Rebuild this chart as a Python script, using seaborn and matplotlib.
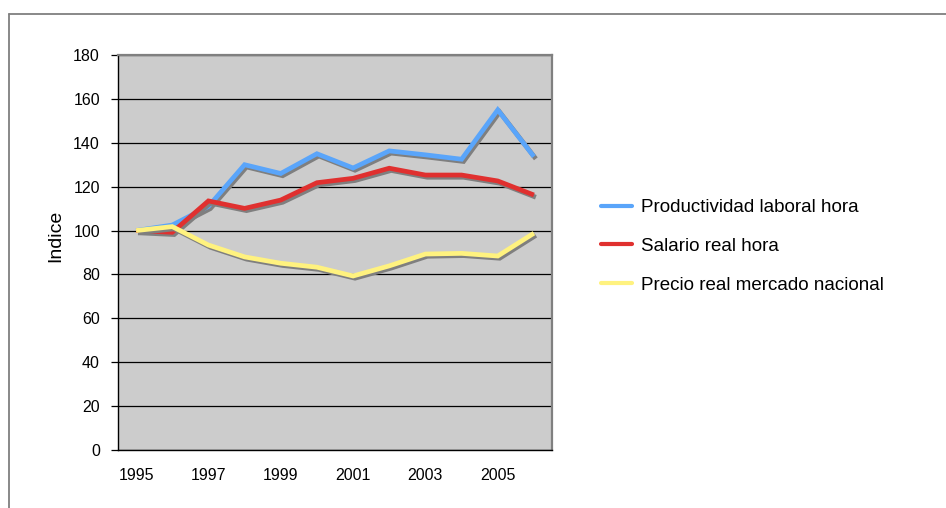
import matplotlib
matplotlib.use("Agg")
import matplotlib.pyplot as plt
import matplotlib.patheffects as pe
from matplotlib.lines import Line2D
import numpy as np
import pandas as pd
import seaborn as sns

# Index values (1995 = 100)
years = [1995, 1996, 1997, 1998, 1999, 2000, 2001, 2002, 2003, 2004, 2005, 2006]
productividad = [100, 102.5, 111, 130, 126, 135, 128.5, 136.3, 134.5, 132.5, 155, 133.7]
salario = [100, 99.2, 113.5, 110.1, 113.9, 121.8, 123.8, 128.4, 125.3, 125.3, 122.6, 116.2]
precio = [100, 101.8, 93.4, 88, 85.1, 83.3, 79.3, 83.9, 89.3, 89.6, 88.4, 98.8]

series_names = ["Productividad laboral hora", "Salario real hora", "Precio real mercado nacional"]
series_colors = ["#5aa5fa", "#e0302f", "#fff27f"]
year_labels = ["1995", "1997", "1999", "2001", "2003", "2005"]
y_ticks = [0, 20, 40, 60, 80, 100, 120, 140, 160, 180]

pos = np.arange(len(years))
df = pd.concat([
    pd.DataFrame({"pos": pos, "valor": vals, "serie": name})
    for name, vals in zip(series_names, [productividad, salario, precio])
], ignore_index=True)

sns.set_theme(style="white")
plt.rcParams["font.family"] = ["Liberation Sans", "DejaVu Sans"]
plt.rcParams["text.color"] = "black"
plt.rcParams["axes.labelcolor"] = "black"
plt.rcParams["xtick.color"] = "black"
plt.rcParams["ytick.color"] = "black"

fig = plt.figure(figsize=(9.46, 5.08), dpi=100)
ax = fig.add_axes([118 / 946, 1 - 450 / 508, (552 - 118) / 946, (450 - 55) / 508])
ax.set_facecolor("#cccccc")

sns.lineplot(data=df, x="pos", y="valor", hue="serie", hue_order=series_names,
             palette=dict(zip(series_names, series_colors)), sort=False,
             linewidth=3.4, ax=ax, legend=False, zorder=3)

shadow = [pe.SimpleLineShadow(offset=(1.4, -1.6), shadow_color="#7f7f7f", alpha=1.0),
          pe.Normal()]
for ln in ax.get_lines():
    ln.set_path_effects(shadow)
    ln.set_solid_joinstyle("miter")
    ln.set_solid_capstyle("butt")

# Axes limits, grid and ticks
ax.set_xlim(-0.5, len(years) - 0.5)
ax.set_ylim(0, 180)
ax.set_yticks(y_ticks)
ax.yaxis.grid(True, color="black", linewidth=0.9)
ax.set_axisbelow(True)

label_pos = [years.index(int(y)) for y in year_labels]
ax.set_xticks(label_pos)
ax.set_xticklabels(year_labels)
ax.set_xticks(np.arange(-0.5, len(years), 1.0), minor=True)
ax.tick_params(axis="x", which="major", length=0, pad=13, labelsize=11.5, labelcolor="black")
ax.tick_params(axis="x", which="minor", length=5, width=0.9, color="black", direction="out")
ax.tick_params(axis="y", which="major", length=5, width=0.9, pad=8, labelsize=11.5,
               color="black", labelcolor="black", direction="out", left=True)

ax.set_xlabel("")
ax.set_ylabel("")
fig.text(56 / 946, 1 - 236 / 508, "Indice", rotation=90, ha="center", va="center",
         fontsize=14, color="black")

for side in ["left", "bottom"]:
    ax.spines[side].set_color("black")
    ax.spines[side].set_linewidth(1.0)
for side in ["top", "right"]:
    ax.spines[side].set_color("#808080")
    ax.spines[side].set_linewidth(1.6)

# Legend without shadows
handles = [Line2D([0], [0], color=c, linewidth=3.0) for c in series_colors]
leg = fig.legend(handles, series_names, loc="upper left",
                 bbox_to_anchor=(601 / 946, 1 - 199 / 508), frameon=False,
                 fontsize=13.5, handlelength=1.65, handletextpad=0.5,
                 labelspacing=1.15, borderpad=0, borderaxespad=0)
for t in leg.get_texts():
    t.set_color("black")

# Chart area outline (top and left edges visible)
fig.add_artist(Line2D([9 / 946, 1.0], [1 - 14 / 508, 1 - 14 / 508],
                      transform=fig.transFigure, color="#7f7f7f", linewidth=1.3))
fig.add_artist(Line2D([9 / 946, 9 / 946], [0.0, 1 - 14 / 508],
                      transform=fig.transFigure, color="#7f7f7f", linewidth=1.3))

fig.savefig("out.png", dpi=100)
